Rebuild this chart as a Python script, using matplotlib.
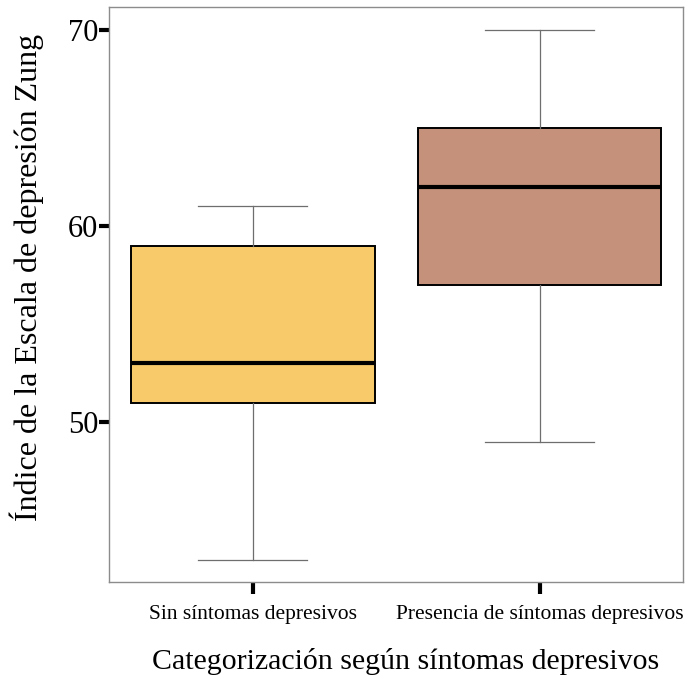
import matplotlib
matplotlib.use("Agg")
import matplotlib.pyplot as plt

categories = ["Sin síntomas depresivos", "Presencia de síntomas depresivos"]
whisker_low = [43, 49]
q1 = [51, 57]
median = [53, 62]
q3 = [59, 65]
whisker_high = [61, 70]
colors = ["#F8CA6A", "#C5917A"]
yticks = [50, 60, 70]

W, H = 685, 679
fig = plt.figure(figsize=(W/100, H/100), dpi=100)
ax = fig.add_axes([109.3/W, (H-582)/H, 573.7/W, 575/H])

stats = []
for i, c in enumerate(categories):
    stats.append(dict(label=c, whislo=whisker_low[i], q1=q1[i], med=median[i],
                      q3=q3[i], whishi=whisker_high[i], fliers=[]))

bp = ax.bxp(stats, positions=[1, 2], widths=0.85, patch_artist=True,
            showfliers=False, capwidths=0.38,
            boxprops=dict(edgecolor="black", linewidth=1.4),
            medianprops=dict(color="black", linewidth=3),
            whiskerprops=dict(color="#6e6e6e", linewidth=0.9),
            capprops=dict(color="#6e6e6e", linewidth=0.9))
for patch, col in zip(bp["boxes"], colors):
    patch.set_facecolor(col)

ax.set_xlim(0.5, 2.5)
ax.set_ylim(41.87, 71.15)
ax.set_yticks(yticks)
ax.set_xticks([1, 2])
ax.set_xticklabels(categories)

serif = ["Liberation Serif", "DejaVu Serif"]
for lab in ax.get_yticklabels():
    lab.set_fontfamily(serif)
    lab.set_fontsize(22)
for lab in ax.get_xticklabels():
    lab.set_fontfamily(serif)
    lab.set_fontsize(15.5)

ax.tick_params(axis="y", length=7, width=3, color="black", pad=1)
ax.tick_params(axis="x", length=8.5, width=3, color="black", pad=8)
for s in ax.spines.values():
    s.set_color("#8c8c8c")
    s.set_linewidth(1)

ax.set_ylabel("Índice de la Escala de depresión Zung", fontfamily=serif, fontsize=23, labelpad=17)
ax.set_xlabel("Categorización según síntomas depresivos", fontfamily=serif, fontsize=21.5, labelpad=17)
ax.yaxis.label.set_y(0.53)
ax.xaxis.label.set_x(0.5157)

fig.savefig("out.png", dpi=100)
